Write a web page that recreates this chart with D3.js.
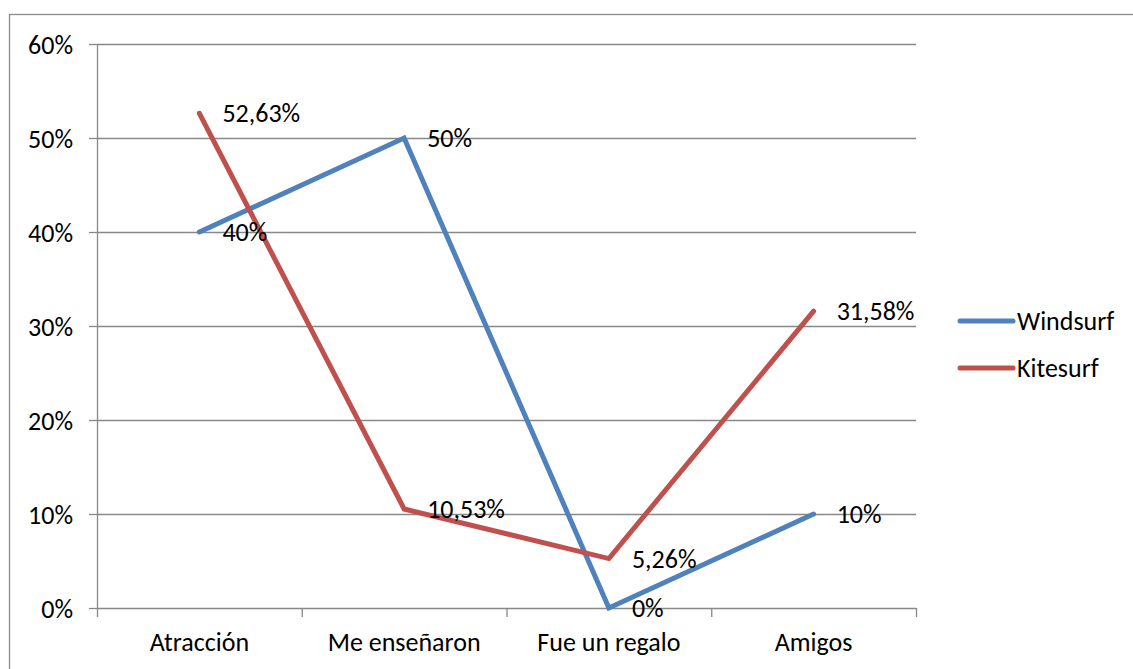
<!DOCTYPE html>
<html>
<head>
<meta charset="utf-8">
<script src="https://cdn.jsdelivr.net/npm/d3@7"></script>
<style>
  body { margin: 0; background: #fff; }
  svg text { font-family: Carlito, "Open Sans", "Noto Sans", sans-serif; fill: #000; }
</style>
</head>
<body>
<svg id="chart"></svg>
<script>
// chart values
const categories = ["Atracción", "Me enseñaron", "Fue un regalo", "Amigos"];
const windsurf = [0.40, 0.50, 0.00, 0.10];
const kitesurf = [0.5263, 0.1053, 0.0526, 0.3158];
const windsurfLabels = ["40%", "50%", "0%", "10%"];
const kitesurfLabels = ["52,63%", "10,53%", "5,26%", "31,58%"];
const yTicks = [0, 0.1, 0.2, 0.3, 0.4, 0.5, 0.6];

const series = [
  { name: "Windsurf", values: windsurf, labels: windsurfLabels, color: "#4F81BD" },
  { name: "Kitesurf", values: kitesurf, labels: kitesurfLabels, color: "#C0504D" }
];

const W = 1133, H = 669;
const margin = { top: 44, left: 97, right: 217, bottom: 61 };
const width = W - margin.left - margin.right;
const height = H - margin.top - margin.bottom;
const fs = 26;

const svg = d3.select("#chart").attr("width", W).attr("height", H);

// outer border (runs off the picture on right and bottom)
svg.append("rect")
  .attr("x", 9.5).attr("y", 14.5)
  .attr("width", W + 10).attr("height", H + 10)
  .attr("fill", "none").attr("stroke", "#8c8c8c").attr("stroke-width", 1.3);

const chart = svg.append("g").attr("transform", `translate(${margin.left},${margin.top})`);

const x = d3.scaleBand().domain(categories).range([0, width]);
const y = d3.scaleLinear().domain([0, 0.6]).range([height, 0]);

// gridlines
chart.append("g")
  .selectAll("line").data(yTicks.filter(d => d > 0)).join("line")
  .attr("x1", 0).attr("x2", width)
  .attr("y1", d => y(d) + 0.5).attr("y2", d => y(d) + 0.5)
  .attr("stroke", "#888").attr("stroke-width", 1.3);

// y axis
const yAxis = d3.axisLeft(y).tickValues(yTicks).tickFormat(d3.format(".0%")).tickSize(8).tickPadding(16);
const yG = chart.append("g").call(yAxis);
yG.select(".domain").attr("stroke", "#888").attr("stroke-width", 1.3).attr("d", `M0.5,0V${height}`);
yG.selectAll(".tick line").attr("stroke", "#888").attr("stroke-width", 1.3);
yG.selectAll("text").attr("font-size", fs).attr("dy", "0.35em");

// x axis
const xAxis = d3.axisBottom(x).tickSize(0);
const xG = chart.append("g").attr("transform", `translate(0,${height})`).call(xAxis);
xG.select(".domain").attr("stroke", "#888").attr("stroke-width", 1.3).attr("d", `M0,0.5H${width}`);
xG.selectAll("text").attr("font-size", fs).attr("y", 43).attr("dy", 0);
// category boundary ticks
xG.append("g").selectAll("line")
  .data(categories.map(c => x(c)).concat([width])).join("line")
  .attr("x1", d => d + 0.5).attr("x2", d => d + 0.5)
  .attr("y1", 0).attr("y2", 9)
  .attr("stroke", "#888").attr("stroke-width", 1.3);

const line = d3.line()
  .x((d, i) => x(categories[i]) + x.bandwidth() / 2)
  .y(d => y(d));

series.forEach(s => {
  chart.append("path")
    .datum(s.values)
    .attr("fill", "none")
    .attr("stroke", s.color)
    .attr("stroke-width", 5)
    .attr("stroke-linecap", "round")
    .attr("stroke-linejoin", "miter")
    .attr("d", line);
});

// data labels
series.forEach(s => {
  chart.append("g").selectAll("text")
    .data(s.values).join("text")
    .attr("x", (d, i) => x(categories[i]) + x.bandwidth() / 2 + 23)
    .attr("y", d => y(d))
    .attr("dy", "0.35em")
    .attr("font-size", fs)
    .text((d, i) => s.labels[i]);
});

// legend
const legend = svg.append("g").attr("transform", "translate(960,321)");
series.forEach((s, i) => {
  const g = legend.append("g").attr("transform", `translate(0,${i * 47})`);
  g.append("line").attr("x1", 0).attr("x2", 53).attr("y1", 0).attr("y2", 0)
    .attr("stroke", s.color).attr("stroke-width", 5).attr("stroke-linecap", "round");
  g.append("text").attr("x", 57).attr("y", 0).attr("dy", "0.35em")
    .attr("font-size", fs).text(s.name);
});
</script>
</body>
</html>
